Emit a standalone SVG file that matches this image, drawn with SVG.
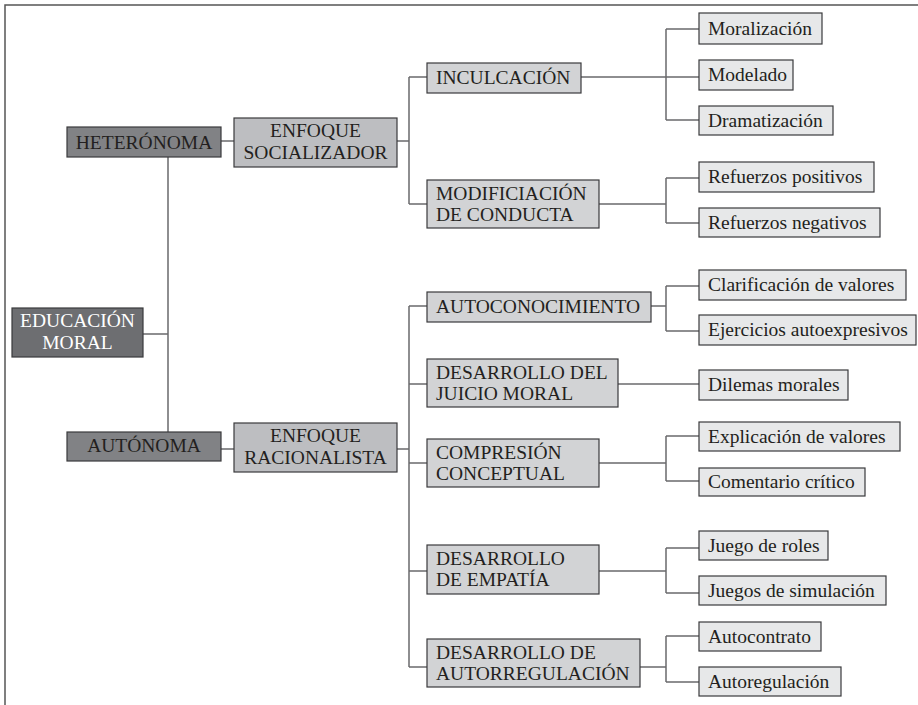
<svg xmlns="http://www.w3.org/2000/svg" width="918" height="705" viewBox="0 0 918 705">
<style>
text{font-family:'Liberation Serif','Times New Roman','DejaVu Serif',serif;font-size:19.5px;fill:#231f20}
.c{text-anchor:middle}
.w{fill:#ffffff}
rect{stroke:#3a3a3c;stroke-width:1.2}
.root{fill:#6d6e71}
.l1{fill:#818285}
.l2{fill:#bdbec1}
.l3{fill:#d2d3d5}
.lf{fill:#e7e8e9}
#connectors path{fill:none;stroke:#6a6a6c;stroke-width:1.5}
.frame{fill:none;stroke:#555;stroke-width:1.5}
</style>
<path class="frame" d="M5,705 V5 H918"/>
<g id="connectors">
<path d="M143,334 H168 M168,157 V432 M221,141 H234 M221,449 H234"/>
<path d="M397,141 H409 M409,77 V204 M409,77 H427 M409,204 H427"/>
<path d="M581,77 H699 M666,29 V120 M666,29 H699 M666,120 H699"/>
<path d="M599,204 H666 M666,178 V223 M666,178 H699 M666,223 H699"/>
<path d="M397,449 H409 M409,306 V667 M409,306 H427 M409,384 H427 M409,463 H427 M409,571 H427 M409,667 H427"/>
<path d="M651,306 H666 M666,286 V331 M666,286 H699 M666,331 H699"/>
<path d="M618,384 H699"/>
<path d="M599,463 H666 M666,436 V481 M666,436 H699 M666,481 H699"/>
<path d="M599,571 H666 M666,548 V593 M666,548 H699 M666,593 H699"/>
<path d="M640,667 H666 M666,636 V682 M666,636 H699 M666,682 H699"/>
</g>
<g font-family="Liberation Serif, Times New Roman, serif">
<g id="educacion-moral"><rect class="root" x="12" y="308" width="131" height="49"/><text class="c w" x="77.5" y="327">EDUCACIÓN</text><text class="c w" x="77.5" y="349">MORAL</text></g>
<g id="heteronoma"><rect class="l1" x="67" y="127" width="154" height="30"/><text class="c" x="144" y="149">HETERÓNOMA</text></g>
<g id="autonoma"><rect class="l1" x="67" y="432" width="154" height="29"/><text class="c" x="144" y="452">AUTÓNOMA</text></g>
<g id="enfoque-socializador"><rect class="l2" x="234" y="118" width="163" height="49"/><text class="c" x="315.5" y="137">ENFOQUE</text><text class="c" x="315.5" y="159">SOCIALIZADOR</text></g>
<g id="enfoque-racionalista"><rect class="l2" x="234" y="423" width="163" height="49"/><text class="c" x="315.5" y="442">ENFOQUE</text><text class="c" x="315.5" y="464">RACIONALISTA</text></g>
<g id="inculcacion"><rect class="l3" x="427" y="63" width="154" height="30"/><text x="436" y="84">INCULCACIÓN</text></g>
<g id="modificiacion"><rect class="l3" x="427" y="180" width="172" height="48"/><text x="436" y="200">MODIFICIACIÓN</text><text x="436" y="221">DE CONDUCTA</text></g>
<g id="autoconocimiento"><rect class="l3" x="427" y="292" width="224" height="30"/><text x="436" y="313">AUTOCONOCIMIENTO</text></g>
<g id="juicio-moral"><rect class="l3" x="427" y="359" width="191" height="48"/><text x="436" y="379">DESARROLLO DEL</text><text x="436" y="400">JUICIO MORAL</text></g>
<g id="compresion"><rect class="l3" x="427" y="439" width="172" height="48"/><text x="436" y="459">COMPRESIÓN</text><text x="436" y="480">CONCEPTUAL</text></g>
<g id="empatia"><rect class="l3" x="427" y="545" width="172" height="49"/><text x="436" y="565">DESARROLLO</text><text x="436" y="586">DE EMPATÍA</text></g>
<g id="autorregulacion"><rect class="l3" x="427" y="639" width="213" height="48"/><text x="436" y="659">DESARROLLO DE</text><text x="436" y="680">AUTORREGULACIÓN</text></g>
<g id="moralizacion"><rect class="lf" x="699" y="13" width="123" height="31"/><text x="708" y="35">Moralización</text></g>
<g id="modelado"><rect class="lf" x="699" y="60" width="94" height="30"/><text x="708" y="81">Modelado</text></g>
<g id="dramatizacion"><rect class="lf" x="699" y="106" width="134" height="29"/><text x="708" y="127">Dramatización</text></g>
<g id="refuerzos-positivos"><rect class="lf" x="699" y="162" width="175" height="30"/><text x="708" y="183">Refuerzos positivos</text></g>
<g id="refuerzos-negativos"><rect class="lf" x="699" y="208" width="181" height="29"/><text x="708" y="229">Refuerzos negativos</text></g>
<g id="clarificacion"><rect class="lf" x="699" y="270" width="207" height="30"/><text x="708" y="291">Clarificación de valores</text></g>
<g id="ejercicios"><rect class="lf" x="699" y="315" width="217" height="30"/><text x="708" y="336">Ejercicios autoexpresivos</text></g>
<g id="dilemas"><rect class="lf" x="699" y="370" width="149" height="30"/><text x="708" y="391">Dilemas morales</text></g>
<g id="explicacion"><rect class="lf" x="699" y="422" width="201" height="29"/><text x="708" y="443">Explicación de valores</text></g>
<g id="comentario"><rect class="lf" x="699" y="468" width="166" height="28"/><text x="708" y="488">Comentario crítico</text></g>
<g id="juego-roles"><rect class="lf" x="699" y="531" width="129" height="29"/><text x="708" y="552">Juego de roles</text></g>
<g id="juegos-simulacion"><rect class="lf" x="699" y="576" width="187" height="29"/><text x="708" y="597">Juegos de simulación</text></g>
<g id="autocontrato"><rect class="lf" x="699" y="622" width="122" height="29"/><text x="708" y="643">Autocontrato</text></g>
<g id="autoregulacion"><rect class="lf" x="699" y="667" width="142" height="29"/><text x="708" y="688">Autoregulación</text></g>
</g>
</svg>
